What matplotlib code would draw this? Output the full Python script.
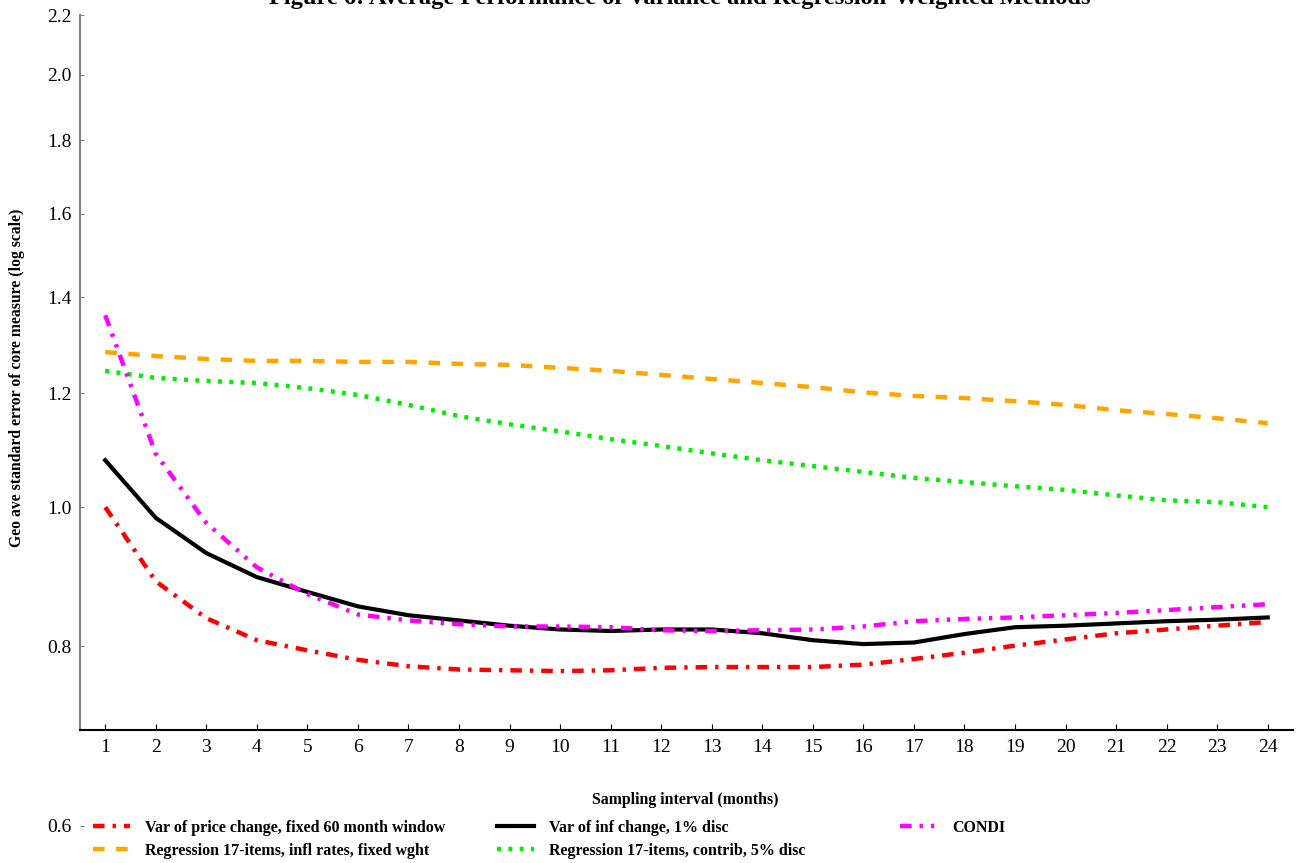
import matplotlib.pyplot as plt
import matplotlib.ticker as ticker
import numpy as np

plt.rcParams['font.family'] = ['Liberation Serif', 'DejaVu Serif']

# Data
intervals = list(range(1, 25))
var_price_change = [1.000, 0.888, 0.837, 0.808, 0.795, 0.783, 0.775, 0.771, 0.770, 0.769,
                    0.770, 0.773, 0.774, 0.774, 0.774, 0.777, 0.784, 0.792, 0.801, 0.809,
                    0.817, 0.822, 0.827, 0.832]
var_inf_change = [1.078, 0.983, 0.929, 0.894, 0.873, 0.853, 0.841, 0.834, 0.827, 0.822,
                  0.820, 0.822, 0.822, 0.817, 0.808, 0.803, 0.805, 0.816, 0.825, 0.827,
                  0.830, 0.833, 0.835, 0.838]
condi = [1.360, 1.089, 0.975, 0.908, 0.870, 0.842, 0.834, 0.829, 0.826, 0.826,
         0.825, 0.821, 0.820, 0.821, 0.822, 0.826, 0.833, 0.836, 0.838, 0.841,
         0.844, 0.848, 0.852, 0.856]
reg_infl_fixed = [1.282, 1.274, 1.268, 1.264, 1.264, 1.262, 1.262, 1.258, 1.256, 1.250,
                  1.244, 1.236, 1.228, 1.220, 1.212, 1.202, 1.195, 1.191, 1.185, 1.178,
                  1.168, 1.161, 1.153, 1.144]
reg_contrib = [1.244, 1.230, 1.224, 1.220, 1.210, 1.197, 1.178, 1.157, 1.142, 1.129,
               1.115, 1.103, 1.090, 1.078, 1.068, 1.058, 1.048, 1.041, 1.034, 1.028,
               1.019, 1.011, 1.008, 1.000]
y_ticks = [0.6, 0.8, 1.0, 1.2, 1.4, 1.6, 1.8, 2.0, 2.2]

labels = [
    "Var of price change, fixed 60 month window",
    "Regression 17-items, infl rates, fixed wght",
    "Var of inf change, 1% disc",
    "Regression 17-items, contrib, 5% disc",
    "CONDI",
]

fig = plt.figure(figsize=(13, 8.63), dpi=100)
ax = fig.add_axes([0.0615, 0.0429, 0.9331, 0.9397])

LW = 3.2
h_red, = ax.plot(intervals, var_price_change, color='#ff0000', linewidth=LW,
                 dashes=(2.6, 1.8, 0.75, 1.8), label=labels[0])
h_orange, = ax.plot(intervals, reg_infl_fixed, color='#ffa500', linewidth=LW,
                    dashes=(2.6, 2.6), label=labels[1])
h_black, = ax.plot(intervals, var_inf_change, color='black', linewidth=3.0,
                   label=labels[2])
h_green, = ax.plot(intervals, reg_contrib, color='#00ee00', linewidth=LW,
                   dashes=(0.9, 1.65), label=labels[3])
h_mag, = ax.plot(intervals, condi, color='#ff00ff', linewidth=LW,
                 dashes=(2.6, 1.8, 0.75, 1.8, 0.75, 1.8), label=labels[4])

# Axes
ax.set_yscale('log')
ax.set_ylim(0.6, 2.2)
ax.set_xlim(0.5, 24.5)
ax.yaxis.set_major_locator(ticker.FixedLocator(y_ticks))
ax.yaxis.set_major_formatter(ticker.FormatStrFormatter('%.1f'))
ax.yaxis.set_minor_locator(ticker.NullLocator())
ax.set_xticks(intervals)

ax.spines['top'].set_visible(False)
ax.spines['right'].set_visible(False)
ax.spines['bottom'].set_position(('data', 0.7))
ax.spines['left'].set_bounds(0.7, 2.2)
ax.spines['left'].set_color('#808080')
ax.spines['left'].set_linewidth(1.5)
ax.spines['bottom'].set_linewidth(1.5)

ax.tick_params(axis='y', direction='in', length=3, color='#808080', labelsize=14, pad=6)
ax.tick_params(axis='x', direction='in', length=4, labelsize=14, pad=7)

# Labels
fig.text(0.527, 0.073, "Sampling interval (months)", ha='center', va='center',
         fontsize=11.4, fontweight='bold')
fig.text(0.013, 0.562, "Geo ave standard error of core measure (log scale)", ha='center',
         va='center', rotation=90, fontsize=11.3, fontweight='bold')
fig.text(0.523, 0.9948, "Figure 6: Average Performance of Variance and Regression-Weighted Methods",
         ha='center', va='baseline', fontsize=17.6, fontweight='bold')

# Legend in three columns
cols = [([h_red, h_orange], 0.0715), ([h_black, h_green], 0.3823), ([h_mag], 0.6923)]
for handles, x0 in cols:
    fig.legend(handles=handles, loc='upper left', bbox_to_anchor=(x0, 0.050),
               frameon=False, prop={'weight': 'bold', 'size': 11.5},
               handlelength=2.3, handletextpad=0.95, labelspacing=0.42,
               borderaxespad=0, borderpad=0)

fig.savefig('out.png', dpi=100)
